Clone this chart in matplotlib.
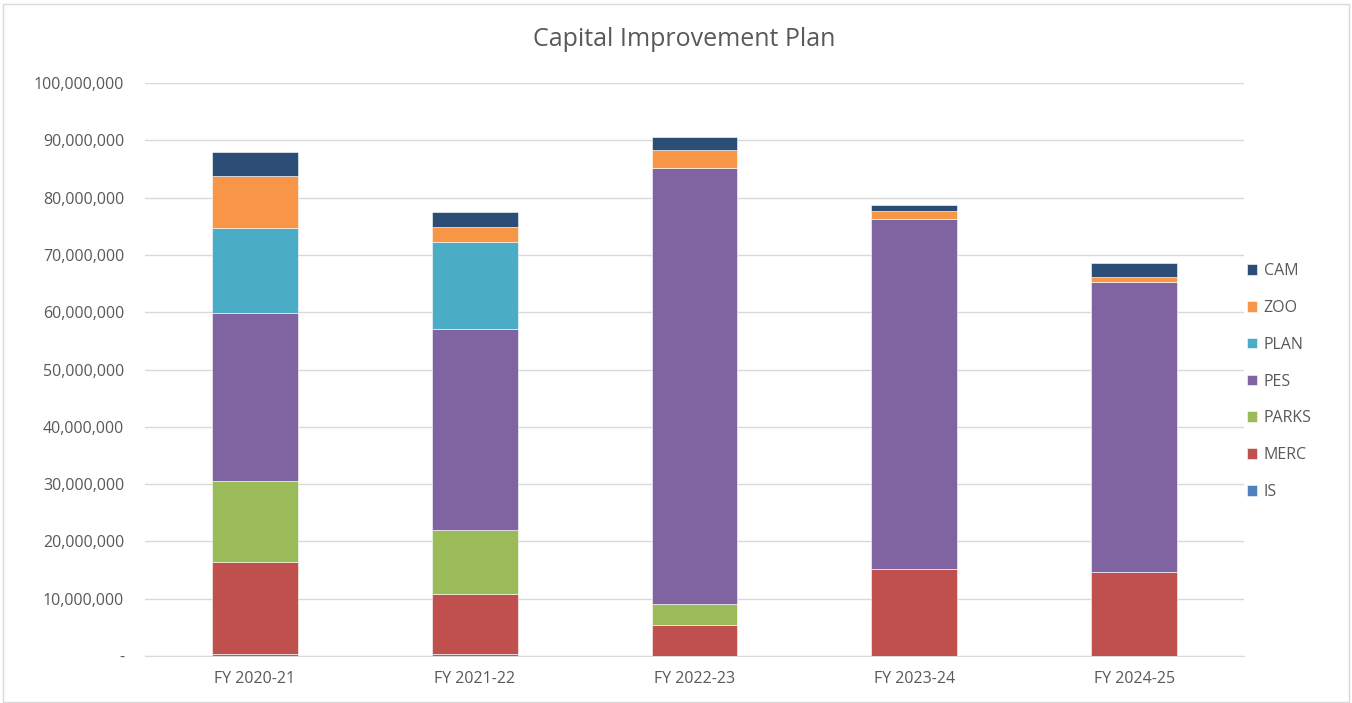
import matplotlib
matplotlib.use("Agg")
import matplotlib.pyplot as plt
import numpy as np
from matplotlib.ticker import FuncFormatter
from matplotlib.patches import Rectangle

plt.rcParams['font.family'] = ['Open Sans', 'DejaVu Sans']

# fiscal years and department budgets (dollars, millions)
years = ["FY 2020-21", "FY 2021-22", "FY 2022-23", "FY 2023-24", "FY 2024-25"]
depts = ["IS", "MERC", "PARKS", "PES", "PLAN", "ZOO", "CAM"]
IS = [0.4, 0.35, 0.0, 0.0, 0.0]
MERC = [16.0, 10.4, 5.4, 15.2, 14.7]
PARKS = [14.1, 11.2, 3.7, 0.0, 0.0]
PES = [29.4, 35.1, 76.1, 61.0, 50.5]
PLAN = [14.8, 15.2, 0.0, 0.0, 0.0]
ZOO = [9.1, 2.7, 3.1, 1.4, 0.9]
CAM = [4.2, 2.6, 2.2, 1.1, 2.5]

colors = ["#4F81BD", "#C0504D", "#9BBB59", "#8064A2", "#4BACC6", "#F79646", "#2C4D75"]
series = [IS, MERC, PARKS, PES, PLAN, ZOO, CAM]

fig = plt.figure(figsize=(13.52, 7.03), dpi=100)
ax = fig.add_axes([145 / 1352, 1 - 656 / 703, 1099 / 1352, 573 / 703])

# light frame around the whole chart
fig.patches.append(Rectangle((0.002, 0.002), 0.996, 0.993, transform=fig.transFigure,
                             fill=False, edgecolor="#D9D9D9", linewidth=1))

x = np.arange(len(years))
bottom = np.zeros(len(years))
handles = []
for name, vals, col in zip(depts, series, colors):
    vals = np.array(vals) * 1e6
    b = ax.bar(x, vals, width=0.39, bottom=bottom, color=col, edgecolor="white",
               linewidth=0.4, label=name, zorder=3)
    handles.append(b)
    bottom += vals

ax.set_xlim(-0.5, len(years) - 0.5)
ax.set_ylim(0, 100e6)
ax.set_yticks(np.arange(0, 100e6 + 1, 10e6))
ax.yaxis.set_major_formatter(FuncFormatter(lambda v, p: "-" if v == 0 else f"{int(v):,}"))
ax.set_xticks(x)
ax.set_xticklabels(years)

ax.grid(axis="y", color="#D9D9D9", linewidth=1, zorder=0)
for s in ["top", "right", "left"]:
    ax.spines[s].set_visible(False)
ax.spines["bottom"].set_color("#D9D9D9")
ax.tick_params(axis="both", length=0, colors="#595959", labelsize=11.5)
ax.tick_params(axis="y", pad=15)
ax.tick_params(axis="x", pad=11)

fig.text(0.506, 1 - 40 / 703, "Capital Improvement Plan", ha="center", va="center",
         fontsize=18, color="#595959")

leg = ax.legend(handles[::-1], depts[::-1], loc="center left",
                bbox_to_anchor=(0.997, 0.479), frameon=False, fontsize=11.5,
                labelspacing=1.3, handlelength=0.65, handleheight=0.65,
                handletextpad=0.4, borderaxespad=0.0)
for t in leg.get_texts():
    t.set_color("#595959")

fig.savefig("out.png", dpi=100)
